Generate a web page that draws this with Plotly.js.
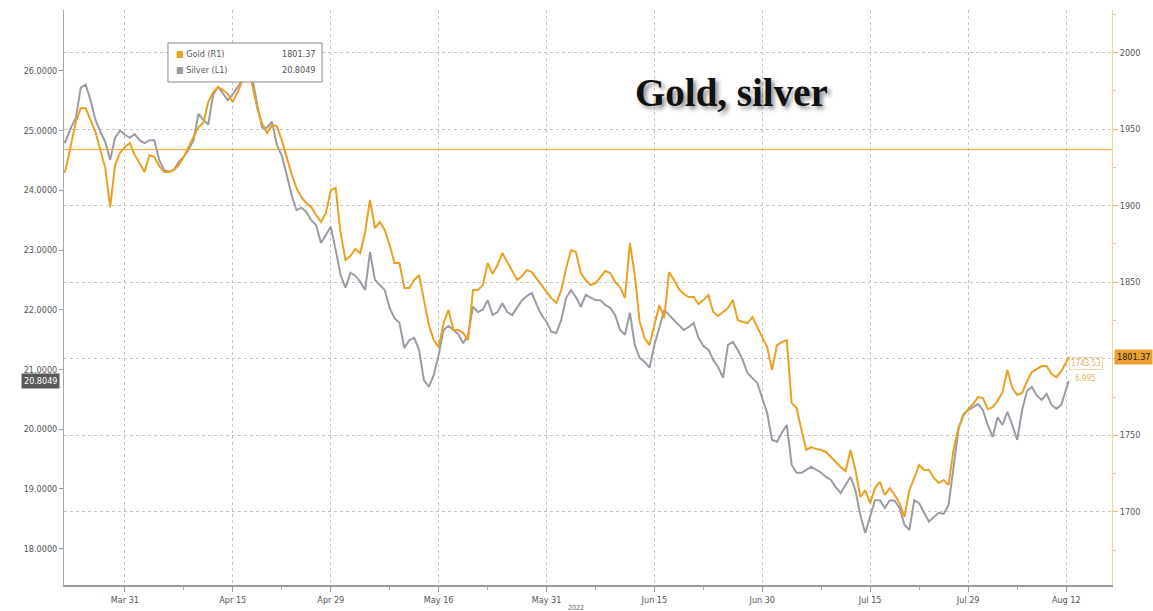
<!DOCTYPE html>
<html>
<head>
<meta charset="utf-8">
<script src="https://cdn.plot.ly/plotly-3.0.1.min.js"></script>
<style>html,body{margin:0;padding:0;background:#fff;}#chart{width:1153px;height:611px;}</style>
</head>
<body>
<div id="chart"></div>
<script>
// Business days (each has a 00:00 and 12:00 reading)
const days = [
'2022-03-23','2022-03-24','2022-03-25',
'2022-03-28','2022-03-29','2022-03-30','2022-03-31','2022-04-01',
'2022-04-04','2022-04-05','2022-04-06','2022-04-07','2022-04-08',
'2022-04-11','2022-04-12','2022-04-13','2022-04-14','2022-04-15',
'2022-04-18','2022-04-19','2022-04-20','2022-04-21','2022-04-22',
'2022-04-25','2022-04-26','2022-04-27','2022-04-28','2022-04-29',
'2022-05-02','2022-05-03','2022-05-04','2022-05-05','2022-05-06',
'2022-05-09','2022-05-10','2022-05-11','2022-05-12','2022-05-13',
'2022-05-16','2022-05-17','2022-05-18','2022-05-19','2022-05-20',
'2022-05-23','2022-05-24','2022-05-25','2022-05-26','2022-05-27',
'2022-05-30','2022-05-31','2022-06-01','2022-06-02','2022-06-03',
'2022-06-06','2022-06-07','2022-06-08','2022-06-09','2022-06-10',
'2022-06-13','2022-06-14','2022-06-15','2022-06-16','2022-06-17',
'2022-06-20','2022-06-21','2022-06-22','2022-06-23','2022-06-24',
'2022-06-27','2022-06-28','2022-06-29','2022-06-30','2022-07-01',
'2022-07-04','2022-07-05','2022-07-06','2022-07-07','2022-07-08',
'2022-07-11','2022-07-12','2022-07-13','2022-07-14','2022-07-15',
'2022-07-18','2022-07-19','2022-07-20','2022-07-21','2022-07-22',
'2022-07-25','2022-07-26','2022-07-27','2022-07-28','2022-07-29',
'2022-08-01','2022-08-02','2022-08-03','2022-08-04','2022-08-05',
'2022-08-08','2022-08-09','2022-08-10','2022-08-11','2022-08-12'
];
const firstTime = '2022-03-22 20:00';
const lastTime = '2022-08-12 06:00';

// Gold spot (right axis, R1)
const gold = [
1921.3,
1924.6,1939.6, 1954.6,1963.7, 1963.7,1955.9,
1948.1,1936.3, 1924.6,1899.1, 1926.5,1934.4, 1938.3,1940.9, 1933.0,1927.8,
1921.9,1933.0, 1931.7,1925.9, 1921.9,1921.9, 1923.3,1926.5, 1931.7,1938.3,
1944.8,1951.3, 1954.0,1967.7, 1974.2,1977.5, 1975.5,1972.9, 1967.7,1974.2,
1982.0,1995.1, 1978.8,1963.7, 1953.3,1947.4, 1952.6,1952.0, 1942.8,1931.1,
1920.6,1911.5, 1905.6,1901.7, 1899.1,1893.9, 1889.3,1895.2, 1910.2,1911.5,
1882.1,1864.5, 1867.1,1871.7, 1869.0,1882.8, 1903.7,1885.4, 1889.3,1884.1,
1874.3,1862.5, 1862.5,1846.2, 1846.2,1851.4, 1854.7,1838.3, 1822.0,1812.2,
1807.6,1823.3, 1831.8,1818.7, 1818.7,1816.8, 1812.2,1844.9, 1844.9,1848.1,
1862.5,1855.3, 1861.2,1869.0, 1863.2,1857.9, 1851.4,1854.0, 1857.9,1856.6,
1852.7,1848.1, 1843.6,1839.6, 1836.4,1844.9, 1859.2,1871.0, 1869.7,1856.0,
1851.4,1848.1, 1849.4,1853.4, 1857.3,1856.0, 1850.1,1846.8, 1839.6,1875.6,
1854.7,1824.0, 1813.5,1808.9, 1822.0,1835.1, 1826.6,1856.6, 1851.4,1845.5,
1842.3,1840.3, 1840.3,1835.7, 1838.3,1841.6, 1830.5,1827.9, 1830.5,1833.1,
1838.3,1825.3, 1824.0,1823.3, 1827.2,1820.7, 1814.8,1807.6, 1792.6,1808.9,
1810.9,1812.2, 1771.1,1767.8, 1753.4,1740.4, 1742.3,1741.0, 1740.4,1739.1,
1735.8,1732.5, 1729.3,1726.6, 1740.4,1727.3, 1709.7,1714.2, 1705.7,1715.5,
1719.5,1711.0, 1715.5,1711.0, 1705.7,1696.6, 1714.2,1722.1, 1730.6,1727.3,
1727.3,1722.1, 1718.8,1720.8, 1717.5,1740.4, 1754.7,1762.6, 1767.1,1770.4,
1775.0,1774.3, 1767.1,1768.4, 1772.4,1778.2, 1792.6,1780.9, 1776.3,1777.6,
1785.4,1791.3, 1793.3,1795.2, 1795.2,1790.0, 1788.0,1792.0, 1797.8,1801.37
];

// Silver spot (left axis, L1)
const silver = [
24.79,
24.84,25.05, 25.21,25.72, 25.77,25.51,
25.18,24.98, 24.81,24.51, 24.88,25.00, 24.93,24.88, 24.94,24.84,
24.79,24.84, 24.84,24.51, 24.34,24.31, 24.34,24.48, 24.56,24.68,
24.84,25.28, 25.18,25.10, 25.60,25.73, 25.61,25.51, 25.61,25.73,
25.85,26.10, 25.88,25.43, 25.05,25.05, 25.15,24.76, 24.58,24.26,
23.92,23.67, 23.71,23.64, 23.50,23.42, 23.12,23.25, 23.39,23.00,
22.58,22.37, 22.62,22.57, 22.47,22.33, 22.97,22.50, 22.42,22.33,
22.03,21.86, 21.78,21.36, 21.49,21.53, 21.33,20.82, 20.71,20.91,
21.24,21.66, 21.73,21.66, 21.59,21.44, 21.58,22.05, 21.96,22.00,
22.16,21.91, 21.96,22.11, 21.96,21.91, 22.03,22.16, 22.23,22.28,
22.08,21.91, 21.80,21.63, 21.61,21.83, 22.20,22.33, 22.21,22.05,
22.25,22.20, 22.16,22.16, 22.08,22.03, 21.91,21.66, 21.58,21.95,
21.41,21.19, 21.13,21.03, 21.41,21.70, 22.00,21.91, 21.83,21.75,
21.66,21.71, 21.78,21.53, 21.39,21.33, 21.16,21.04, 20.86,21.41,
21.46,21.33, 21.16,20.94, 20.86,20.77, 20.52,20.27, 19.82,19.79,
19.94,20.07, 19.40,19.27, 19.27,19.32, 19.37,19.32, 19.27,19.20,
19.15,19.03, 18.93,19.07, 19.20,18.98, 18.56,18.26, 18.53,18.81,
18.81,18.68, 18.81,18.80, 18.68,18.40, 18.31,18.81, 18.76,18.60,
18.45,18.53, 18.60,18.58, 18.73,19.35, 19.99,20.25, 20.32,20.37,
20.42,20.32, 20.07,19.87, 20.20,20.07, 20.29,20.07, 19.82,20.32,
20.64,20.71, 20.56,20.49, 20.59,20.41, 20.34,20.41, 20.66,20.8049
];

const xTickVals = ['2022-03-31','2022-04-15','2022-04-29','2022-05-16','2022-05-31','2022-06-15','2022-06-30','2022-07-15','2022-07-29','2022-08-12'];
const xTickText = ['Mar 31','Apr 15','Apr 29','May 16','May 31','Jun 15','Jun 30','Jul 15','Jul 29','Aug 12'];
const xMinorVals = ['2022-04-08','2022-04-22','2022-05-09','2022-05-23','2022-06-07','2022-06-22','2022-07-08','2022-07-22','2022-08-05'];
const leftTickVals = [18,19,20,21,22,23,24,25,26];
const leftTickText = ['18.0000','19.0000','20.0000','21.0000','22.0000','23.0000','24.0000','25.0000','26.0000'];
const rightTickVals = [1700,1750,1800,1850,1900,1950,2000];
const rightTickText = ['1700','1750','','1850','1900','1950','2000'];
const rightMinorVals = [1675,1725,1775,1825,1875,1925,1975,2025];
const goldRefLevel = 1936.6;
const goldLast = 1801.37, silverLast = 20.8049;
const endNote1 = '1743.53', endNote2 = '6.995';

const times = [firstTime];
days.forEach(d => { times.push(d + ' 00:00', d + ' 12:00'); });
times[times.length - 1] = lastTime;

const GOLD = '#EBA024';
const SILVER = '#9B9BA6';
const FONT = 'DejaVu Sans Condensed, Liberation Sans Narrow, Arial, sans-serif';

const traces = [
  {x: times, y: silver, type: 'scatter', mode: 'lines', yaxis: 'y', name: 'Silver (L1)',
   line: {color: SILVER, width: 2}},
  {x: times, y: gold, type: 'scatter', mode: 'lines', yaxis: 'y2', name: 'Gold (R1)',
   line: {color: GOLD, width: 2}}
];

const layout = {
  width: 1153, height: 611,
  margin: {l: 64, r: 41, t: 10, b: 26},
  paper_bgcolor: '#ffffff', plot_bgcolor: '#ffffff',
  showlegend: false,
  font: {family: FONT, size: 9, color: '#555'},
  xaxis: {
    type: 'date',
    range: ['2022-03-22 19:00', '2022-08-18 16:00'],
    rangebreaks: [{bounds: ['sat', 'mon']}],
    tickmode: 'array', tickvals: xTickVals, ticktext: xTickText,
    ticks: 'outside', ticklen: 5, tickcolor: '#999', tickwidth: 1,
    showline: true, linecolor: '#9a9a9a', linewidth: 2,
    showgrid: true, gridcolor: '#c4c4c4', griddash: 'dot', gridwidth: 1,
    minor: {tickvals: xMinorVals, ticks: 'outside', ticklen: 3, tickcolor: '#aaa', showgrid: false},
    tickfont: {family: FONT, size: 9, color: '#555'},
    zeroline: false, fixedrange: true
  },
  yaxis: {
    range: [17.39, 27.02],
    tickmode: 'array', tickvals: leftTickVals, ticktext: leftTickText,
    ticks: 'outside', ticklen: 4, tickcolor: '#999',
    showline: true, linecolor: '#a8a8a8', linewidth: 1,
    showgrid: false, zeroline: false,
    tickfont: {family: FONT, size: 9, color: '#555'}
  },
  yaxis2: {
    range: [1652.2, 2027.8],
    overlaying: 'y', side: 'right',
    tickmode: 'array', tickvals: rightTickVals, ticktext: rightTickText,
    ticks: 'outside', ticklen: 5, tickcolor: '#e6b560',
    minor: {tickvals: rightMinorVals, ticks: 'outside', ticklen: 3, tickcolor: '#e8c890', showgrid: false},
    showline: true, linecolor: '#ecd3a4', linewidth: 1,
    showgrid: true, gridcolor: '#c4c4c4', griddash: 'dot', gridwidth: 1,
    zeroline: false,
    tickfont: {family: FONT, size: 9, color: '#555'}
  },
  shapes: [
    {type: 'line', xref: 'paper', yref: 'y2', x0: 0, x1: 1, y0: goldRefLevel, y1: goldRefLevel,
     line: {color: '#F0A63A', width: 1}, layer: 'above'},
    {type: 'rect', xref: 'paper', yref: 'paper', x0: 0.0992, x1: 0.2462, y0: 0.8748, y1: 0.9426,
     fillcolor: '#ffffff', line: {color: '#8a8a8a', width: 1}, layer: 'above'}
  ],
  annotations: [
    {xref: 'paper', yref: 'paper', x: 0.6365, y: 0.8565, xanchor: 'center', yanchor: 'middle',
     text: '<b>Gold, silver</b>', showarrow: false,
     font: {family: 'Liberation Serif, DejaVu Serif, serif', size: 39, color: '#111',
            shadow: '3px 3px 4px rgba(0,0,0,0.45)'}},
    // legend entries
    {xref: 'paper', yref: 'paper', x: 0.1050, y: 0.9235, xanchor: 'left', yanchor: 'middle', showarrow: false,
     text: '<span style="color:' + GOLD + '">■</span> Gold (R1)', font: {family: FONT, size: 9, color: '#555'}},
    {xref: 'paper', yref: 'paper', x: 0.2415, y: 0.9235, xanchor: 'right', yanchor: 'middle', showarrow: false,
     text: goldLast.toFixed(2), font: {family: FONT, size: 9, color: '#555'}},
    {xref: 'paper', yref: 'paper', x: 0.1050, y: 0.8957, xanchor: 'left', yanchor: 'middle', showarrow: false,
     text: '<span style="color:' + SILVER + '">■</span> Silver (L1)', font: {family: FONT, size: 9, color: '#555'}},
    {xref: 'paper', yref: 'paper', x: 0.2415, y: 0.8957, xanchor: 'right', yanchor: 'middle', showarrow: false,
     text: silverLast.toFixed(4), font: {family: FONT, size: 9, color: '#555'}},
    // last-value tags
    {xref: 'paper', yref: 'y2', x: 1, y: goldLast, xanchor: 'left', yanchor: 'middle', xshift: 2, showarrow: false,
     text: goldLast.toFixed(2), bgcolor: '#E8A030', borderpad: 2, font: {family: FONT, size: 9, color: '#2a1a00'}},
    {xref: 'paper', yref: 'y', x: 0, y: silverLast, xanchor: 'right', yanchor: 'middle', xshift: -4, showarrow: false,
     text: silverLast.toFixed(4), bgcolor: '#5a5a5a', borderpad: 2, font: {family: FONT, size: 9, color: '#ffffff'}},
    // small end notes
    {xref: 'x', yref: 'y2', x: '2022-08-16 00:00', y: 1797, xanchor: 'center', yanchor: 'middle', showarrow: false,
     text: endNote1, bordercolor: '#efd7a8', borderwidth: 1, borderpad: 1, font: {family: FONT, size: 8, color: '#e3b45c'}},
    {xref: 'x', yref: 'y2', x: '2022-08-16 00:00', y: 1787, xanchor: 'center', yanchor: 'middle', showarrow: false,
     text: endNote2, font: {family: FONT, size: 8, color: '#e3b45c'}},
    // year label
    {xref: 'x', yref: 'paper', x: '2022-06-03', y: 0, yanchor: 'top', yshift: -17, showarrow: false,
     text: '2022', font: {family: FONT, size: 7, color: '#666'}}
  ]
};

if (gold.length !== times.length || silver.length !== times.length) {
  layout.annotations.push({xref:'paper', yref:'paper', x:0.5, y:0.5, showarrow:false,
    text: 'LEN MISMATCH ' + times.length + ' ' + gold.length + ' ' + silver.length, font:{size:30, color:'red'}});
}

Plotly.newPlot('chart', traces, layout, {staticPlot: true, displayModeBar: false});
</script>
</body>
</html>
